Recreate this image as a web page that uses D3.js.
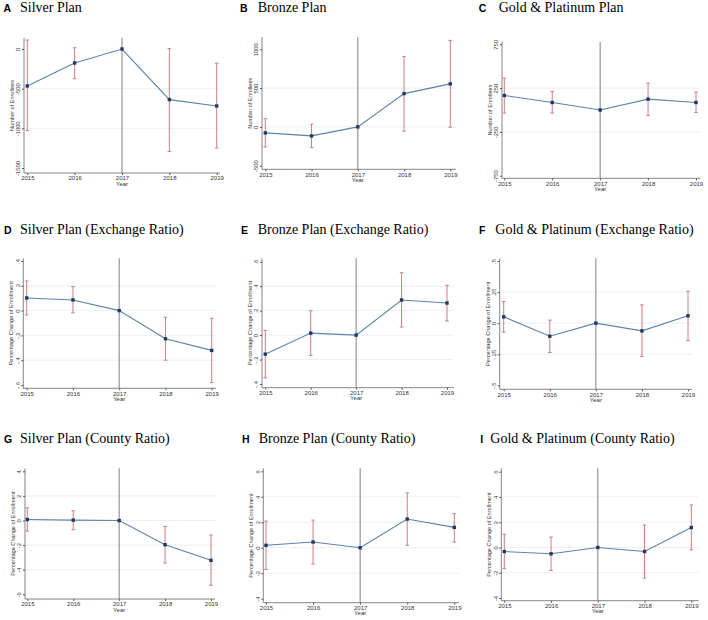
<!DOCTYPE html>
<html>
<head>
<meta charset="utf-8">
<script src="https://cdn.jsdelivr.net/npm/d3@7"></script>
<style>
  body { margin: 0; background: #fff; }
  svg { display: block; }
  .tick line { stroke: #555; }
</style>
</head>
<body>
<div id="chart"></div>
<script>
var years = [2015, 2016, 2017, 2018, 2019];

// point estimates, lower and upper CI (2017 is the reference year)
var silverEst = [-466, -176, 0, -638, -718],
    silverLo = [-1029, -374, null, -1293, -1247],
    silverHi = [113, 16, null, 5, -180];
var bronzeEst = [-77, -116, 0, 429, 554],
    bronzeLo = [-258, -267, null, -55, -4],
    bronzeHi = [107, 34, null, 906, 1115];
var goldEst = [166, 86, 0, 124, 86],
    goldLo = [-35, -35, null, -63, -28],
    goldHi = [364, 211, null, 307, 204];

var silverExEst = [0.102, 0.086, 0, -0.227, -0.321],
    silverExLo = [-0.035, -0.018, null, -0.40, -0.58],
    silverExHi = [0.239, 0.193, null, -0.054, -0.062];
var bronzeExEst = [-0.156, 0.016, 0, 0.287, 0.262],
    bronzeExLo = [-0.35, -0.166, null, 0.066, 0.115],
    bronzeExHi = [0.038, 0.199, null, 0.51, 0.407];
var goldExEst = [0.051, -0.105, 0, -0.062, 0.059],
    goldExLo = [-0.072, -0.236, null, -0.268, -0.140],
    goldExHi = [0.174, 0.024, null, 0.147, 0.257];

var silverCoEst = [0.08, 0.03, 0, -1.97, -3.24],
    silverCoLo = [-0.86, -0.75, null, -3.46, -5.27],
    silverCoHi = [1.03, 0.79, null, -0.49, -1.18];
var bronzeCoEst = [0.19, 0.45, 0, 2.25, 1.6],
    bronzeCoLo = [-1.7, -1.28, null, 0.19, 0.45],
    bronzeCoHi = [2.09, 2.17, null, 4.31, 2.67];
var goldCoEst = [-0.32, -0.5, 0, -0.32, 1.58],
    goldCoLo = [-1.68, -1.82, null, -2.43, -0.18],
    goldCoHi = [1.05, 0.82, null, 1.78, 3.37];

// y tick values
var ticksA = [-1500, -1000, -500, 0],
    ticksB = [-500, 0, 500, 1000],
    ticksC = [-750, -250, 250, 750],
    ticksD = [-0.6, -0.4, -0.2, 0, 0.2, 0.4],
    ticksE = [-0.4, -0.2, 0, 0.2, 0.4, 0.6],
    ticksF = [-0.5, -0.25, 0, 0.25, 0.5],
    ticksG = [-6, -4, -2, 0, 2, 4],
    ticksH = [-4, -2, 0, 2, 4, 6],
    ticksI = [-4, -2, 0, 2, 4, 6];

var letters = ["A", "B", "C", "D", "E", "F", "G", "H", "I"];
var titles = ["Silver Plan", "Bronze Plan", "Gold & Platinum Plan",
    "Silver Plan (Exchange Ratio)", "Bronze Plan (Exchange Ratio)", "Gold & Platinum (Exchange Ratio)",
    "Silver Plan (County Ratio)", "Bronze Plan (County Ratio)", "Gold & Platinum (County Ratio)"];
var yTitles = ["Number of Enrollees", "Number of Enrollees", "Number of Enrollees",
    "Percentage Change of Enrollment", "Percentage Change of Enrollment", "Percentage Change of Enrollment",
    "Percentage Change of Enrollment", "Percentage Change of Enrollment", "Percentage Change of Enrollment"];

var panels = [
    {est: silverEst, lo: silverLo, hi: silverHi, ticks: ticksA},
    {est: bronzeEst, lo: bronzeLo, hi: bronzeHi, ticks: ticksB},
    {est: goldEst, lo: goldLo, hi: goldHi, ticks: ticksC},
    {est: silverExEst, lo: silverExLo, hi: silverExHi, ticks: ticksD},
    {est: bronzeExEst, lo: bronzeExLo, hi: bronzeExHi, ticks: ticksE},
    {est: goldExEst, lo: goldExLo, hi: goldExHi, ticks: ticksF},
    {est: silverCoEst, lo: silverCoLo, hi: silverCoHi, ticks: ticksG},
    {est: bronzeCoEst, lo: bronzeCoLo, hi: bronzeCoHi, ticks: ticksH},
    {est: goldCoEst, lo: goldCoLo, hi: goldCoHi, ticks: ticksI}
];

// layout of each small plot, relative to its cell
var layout = [
    {ox: 0,   oy: 0,   ax: 24,   x0: 27.3, x1: 216.7, right: 220,   top: 38,   bottom: 173,   tHi: 49,   tLo: 168,   lx: 3.5, tx: 20,   ty: 12},
    {ox: 236, oy: 0,   ax: 26,   x0: 29.3, x1: 214.3, right: 220,   top: 37,   bottom: 169.3, tHi: 49.3, tLo: 165.7, lx: 4,   tx: 21.7, ty: 12},
    {ox: 472, oy: 0,   ax: 30,   x0: 32.3, x1: 224,   right: 228.3, top: 41.7, bottom: 178.3, tHi: 44.3, tLo: 175.7, lx: 6.7, tx: 26.7, ty: 12},
    {ox: 0,   oy: 205, ax: 23.3, x0: 26.7, x1: 211.7, right: 216,   top: 53.3, bottom: 183.3, tHi: 56,   tLo: 180,   lx: 4,   tx: 20,   ty: 29},
    {ox: 236, oy: 205, ax: 26,   x0: 29.3, x1: 211,   right: 218,   top: 53.3, bottom: 182.7, tHi: 56.7, tLo: 179,   lx: 5,   tx: 21.7, ty: 29},
    {ox: 472, oy: 205, ax: 27.7, x0: 31.7, x1: 216,   right: 220,   top: 53.3, bottom: 184.3, tHi: 56,   tLo: 180.3, lx: 7,   tx: 23.3, ty: 29},
    {ox: 0,   oy: 410, ax: 25,   x0: 27.3, x1: 211,   right: 215,   top: 58.3, bottom: 189,   tHi: 61.3, tLo: 184.3, lx: 4,   tx: 20,   ty: 33},
    {ox: 236, oy: 410, ax: 27.3, x0: 30,   x1: 218.3, right: 223,   top: 58.3, bottom: 192.7, tHi: 61.3, tLo: 188.7, lx: 6,   tx: 22.7, ty: 33},
    {ox: 472, oy: 410, ax: 29.3, x0: 32.3, x1: 219.3, right: 226.7, top: 58.3, bottom: 190.7, tHi: 61.7, tLo: 188,   lx: 8.3, tx: 18.3, ty: 33}
];

var fmtY = function (d) {
    return d === 0 ? "0" : String(d).replace(/^(-?)0\./, "$1.");
};

var svg = d3.select("#chart")
    .append("svg")
    .attr("width", 708)
    .attr("height", 620);

panels.forEach(function (p, i) {
    var L = layout[i];
    var g = svg.append("g")
        .attr("transform", "translate(" + L.ox + "," + L.oy + ")");

    var x = d3.scaleLinear().domain([2015, 2019]).range([L.x0, L.x1]);
    var y = d3.scaleLinear()
        .domain([d3.min(p.ticks), d3.max(p.ticks)])
        .range([L.tLo, L.tHi]);

    // title
    g.append("text")
        .attr("x", L.lx).attr("y", L.ty)
        .style("font", "bold 10.5px 'Liberation Sans', Arial, sans-serif")
        .text(letters[i]);
    g.append("text")
        .attr("x", L.tx).attr("y", L.ty)
        .style("font", "14px 'Liberation Serif', 'Times New Roman', serif")
        .text(titles[i]);

    // gridlines (inner ticks only)
    var inner = p.ticks.slice(1, -1);
    g.append("g").selectAll("line")
        .data(inner)
        .join("line")
        .attr("x1", L.ax).attr("x2", L.right)
        .attr("y1", function (d) { return y(d); })
        .attr("y2", function (d) { return y(d); })
        .attr("stroke", "#e4eeee")
        .attr("stroke-width", 0.8);

    // axis lines
    g.append("line")
        .attr("x1", L.ax).attr("x2", L.ax)
        .attr("y1", L.top).attr("y2", L.bottom)
        .attr("stroke", "#666").attr("stroke-width", 0.8);
    g.append("line")
        .attr("x1", L.ax).attr("x2", L.right)
        .attr("y1", L.bottom).attr("y2", L.bottom)
        .attr("stroke", "#666").attr("stroke-width", 0.8);

    // y axis
    var yAxis = g.append("g")
        .attr("transform", "translate(" + L.ax + ",0)")
        .call(d3.axisLeft(y).tickValues(p.ticks).tickFormat(fmtY).tickSize(2).tickSizeOuter(0));
    yAxis.select(".domain").remove();
    yAxis.selectAll("text")
        .attr("x", 0).attr("y", -3.8).attr("dy", null)
        .attr("transform", "rotate(-90)")
        .style("text-anchor", "middle")
        .style("font", "5.8px 'Liberation Sans', Arial, sans-serif")
        .attr("fill", "#333");

    // x axis
    var xAxis = g.append("g")
        .attr("transform", "translate(0," + L.bottom + ")")
        .call(d3.axisBottom(x).tickValues(years).tickFormat(d3.format("d")).tickSize(2).tickSizeOuter(0));
    xAxis.select(".domain").remove();
    xAxis.selectAll("text")
        .attr("y", 3).attr("dy", "0.71em")
        .style("font", "6px 'Liberation Sans', Arial, sans-serif")
        .attr("fill", "#333");

    // axis titles
    g.append("text")
        .attr("transform", "translate(" + x(2017) + "," + (L.bottom + 12.5) + ")")
        .style("text-anchor", "middle")
        .style("font", "6px 'Liberation Sans', Arial, sans-serif")
        .attr("fill", "#333")
        .text("Year");
    g.append("text")
        .attr("transform", "translate(" + (L.ax - 10) + "," + ((L.top + L.bottom) / 2) + ") rotate(-90)")
        .style("text-anchor", "middle")
        .style("font", "5.6px 'Liberation Sans', Arial, sans-serif")
        .attr("fill", "#333")
        .text(yTitles[i]);

    // reference year line
    g.append("line")
        .attr("x1", x(2017)).attr("x2", x(2017))
        .attr("y1", L.top).attr("y2", L.bottom)
        .attr("stroke", "#8c8c8c").attr("stroke-width", 1.1);

    // confidence intervals
    var rows = years.map(function (yr, k) {
        return {year: yr, est: p.est[k], lo: p.lo[k], hi: p.hi[k]};
    });
    var ci = rows.filter(function (d) { return d.lo !== null; });
    var cig = g.append("g").attr("stroke", "#cf7c85").attr("stroke-width", 1);
    cig.selectAll(".bar").data(ci).join("line")
        .attr("x1", function (d) { return x(d.year); })
        .attr("x2", function (d) { return x(d.year); })
        .attr("y1", function (d) { return y(d.lo); })
        .attr("y2", function (d) { return y(d.hi); });
    cig.selectAll(".capLo").data(ci).join("line")
        .attr("x1", function (d) { return x(d.year) - 1.8; })
        .attr("x2", function (d) { return x(d.year) + 1.8; })
        .attr("y1", function (d) { return y(d.lo); })
        .attr("y2", function (d) { return y(d.lo); });
    cig.selectAll(".capHi").data(ci).join("line")
        .attr("x1", function (d) { return x(d.year) - 1.8; })
        .attr("x2", function (d) { return x(d.year) + 1.8; })
        .attr("y1", function (d) { return y(d.hi); })
        .attr("y2", function (d) { return y(d.hi); });

    // estimate line and markers
    g.append("path")
        .datum(rows)
        .attr("fill", "none")
        .attr("stroke", "#5d82ab")
        .attr("stroke-width", 1.1)
        .attr("d", d3.line()
            .x(function (d) { return x(d.year); })
            .y(function (d) { return y(d.est); }));
    g.append("g").selectAll("rect")
        .data(rows)
        .join("rect")
        .attr("x", function (d) { return x(d.year) - 1.7; })
        .attr("y", function (d) { return y(d.est) - 1.7; })
        .attr("width", 3.4).attr("height", 3.4)
        .attr("fill", "#1d3a63");
});
</script>
</body>
</html>
